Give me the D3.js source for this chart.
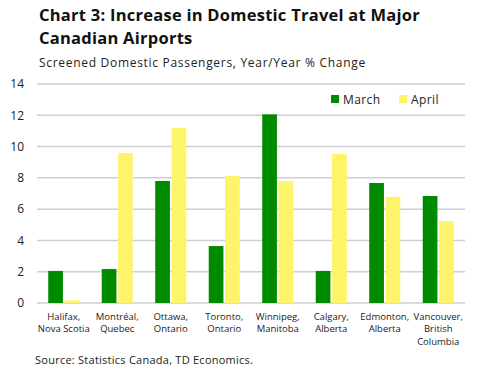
<!DOCTYPE html>
<html>
<head>
<meta charset="utf-8">
<script src="https://cdn.jsdelivr.net/npm/d3@7"></script>
<style>
  body { margin: 0; background: #fff; }
  svg { display: block; font-family: "Open Sans", "DejaVu Sans", sans-serif; }
</style>
</head>
<body>
<svg id="chart" width="496" height="370"></svg>
<script>
// Data
const cities = [
    ["Halifax,", "Nova Scotia"],
    ["Montréal,", "Quebec"],
    ["Ottawa,", "Ontario"],
    ["Toronto,", "Ontario"],
    ["Winnipeg,", "Manitoba"],
    ["Calgary,", "Alberta"],
    ["Edmonton,", "Alberta"],
    ["Vancouver,", "British", "Columbia"]
];
const march = [2.05, 2.17, 7.8, 3.64, 12.06, 2.05, 7.67, 6.84];
const april = [0.17, 9.59, 11.19, 8.12, 7.8, 9.53, 6.78, 5.24];
const seriesNames = ["March", "April"];
const yTicks = [0, 2, 4, 6, 8, 10, 12, 14];

const colors = { March: "#008a00", April: "#fef46a" };

const svg = d3.select("#chart");
const margin = { left: 37, right: 31, top: 84, bottom: 67 };
const width = 496 - margin.left - margin.right;
const height = 370 - margin.top - margin.bottom;

// Titles
svg.append("text")
    .attr("x", 39).attr("y", 21)
    .attr("font-size", "16.5px").attr("font-weight", "700").attr("fill", "#111")
    .attr("letter-spacing", "0.25px")
    .text("Chart 3: Increase in Domestic Travel at Major");
svg.append("text")
    .attr("x", 39).attr("y", 44)
    .attr("font-size", "16.5px").attr("font-weight", "700").attr("fill", "#111")
    .attr("letter-spacing", "0.25px")
    .text("Canadian Airports");
svg.append("text")
    .attr("x", 39).attr("y", 67)
    .attr("font-size", "12px").attr("fill", "#222")
    .attr("letter-spacing", "0.7px")
    .text("Screened Domestic Passengers, Year/Year % Change");

const g = svg.append("g")
    .attr("transform", `translate(${margin.left},${margin.top})`);

const x0 = d3.scaleBand()
    .domain(d3.range(cities.length))
    .range([0, width])
    .paddingInner(0.42)
    .paddingOuter(0.21);

const x1 = d3.scaleBand()
    .domain(seriesNames)
    .range([0, x0.bandwidth()])
    .paddingInner(0.1);

const y = d3.scaleLinear().domain([0, 14]).range([height, 0]);

// Gridlines
g.append("g")
    .selectAll("line")
    .data(yTicks)
    .join("line")
    .attr("x1", 0).attr("x2", width)
    .attr("y1", d => y(d)).attr("y2", d => y(d))
    .attr("stroke", "#cfcfcf").attr("stroke-width", 1.5);

// Y axis labels
const yAxis = g.append("g")
    .call(d3.axisLeft(y).tickValues(yTicks).tickSize(0).tickPadding(13));
yAxis.select(".domain").remove();
yAxis.selectAll("text").attr("font-size", "12px").attr("fill", "#222")
    .style("font-family", "\"Open Sans\", sans-serif");

// Bars
const rows = cities.map((c, i) => ({ i, March: march[i], April: april[i] }));
const groups = g.selectAll(".grp")
    .data(rows)
    .join("g")
    .attr("transform", d => `translate(${x0(d.i)},0)`);

groups.selectAll("rect")
    .data(d => seriesNames.map(k => ({ key: k, value: d[k] })))
    .join("rect")
    .attr("x", d => x1(d.key))
    .attr("width", x1.bandwidth())
    .attr("y", d => y(d.value))
    .attr("height", d => y(0) - y(d.value))
    .attr("fill", d => colors[d.key]);

// Category labels, one text per line
const xl = g.append("g").attr("transform", `translate(0,${height})`);
cities.forEach((lines, i) => {
    lines.forEach((ln, j) => {
        xl.append("text")
            .attr("x", x0(i) + x0.bandwidth() / 2)
            .attr("y", 17 + j * 12.3)
            .attr("text-anchor", "middle")
            .attr("font-size", "9.5px").attr("fill", "#222")
            .text(ln);
    });
});

// Legend
const legend = svg.append("g").attr("transform", "translate(331,95)");
seriesNames.forEach((name, i) => {
    const lg = legend.append("g").attr("transform", `translate(${i * 68},0)`);
    lg.append("rect").attr("width", 8).attr("height", 8).attr("fill", colors[name]);
    lg.append("text").attr("x", 12).attr("y", 8.5)
        .attr("font-size", "12px").attr("fill", "#222")
        .attr("letter-spacing", "0.4px").text(name);
});

// Source
svg.append("text")
    .attr("x", 35).attr("y", 364)
    .attr("font-size", "11px").attr("fill", "#222")
    .attr("letter-spacing", "0.25px")
    .text("Source: Statistics Canada, TD Economics.");
</script>
</body>
</html>
